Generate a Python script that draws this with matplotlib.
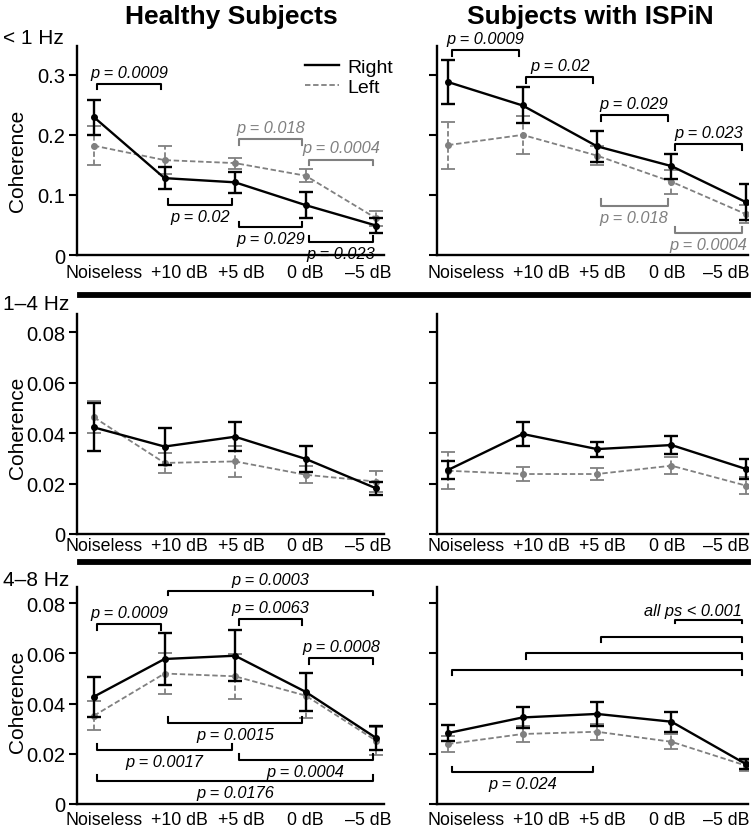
import numpy as np
import matplotlib.pyplot as plt
from matplotlib.lines import Line2D

plt.rcParams['font.family'] = ['Liberation Sans', 'DejaVu Sans']

conditions = ['Noiseless', '+10 dB', '+5 dB', '0 dB', '–5 dB']
bands = ['< 1 Hz', '1–4 Hz', '4–8 Hz']
groups = ['Healthy Subjects', 'Subjects with ISPiN']

# < 1 Hz
hs_lt1_right = [0.2295, 0.128, 0.121, 0.083, 0.049]
hs_lt1_right_err = [0.029, 0.018, 0.018, 0.022, 0.013]
hs_lt1_left = [0.182, 0.158, 0.153, 0.132, 0.061]
hs_lt1_left_err = [0.032, 0.023, 0.009, 0.011, 0.012]
sp_lt1_right = [0.288, 0.249, 0.181, 0.148, 0.088]
sp_lt1_right_err = [0.037, 0.030, 0.026, 0.021, 0.030]
sp_lt1_left = [0.183, 0.200, 0.1655, 0.122, 0.068]
sp_lt1_left_err = [0.039, 0.031, 0.016, 0.020, 0.015]

# 1–4 Hz
hs_d14_right = [0.0423, 0.0347, 0.0386, 0.0298, 0.0181]
hs_d14_right_err = [0.0095, 0.0074, 0.0058, 0.0050, 0.0025]
hs_d14_left = [0.0463, 0.0282, 0.0288, 0.0235, 0.0208]
hs_d14_left_err = [0.0064, 0.0040, 0.0062, 0.0033, 0.0043]
sp_d14_right = [0.0254, 0.0397, 0.0337, 0.0353, 0.0258]
sp_d14_right_err = [0.0035, 0.0047, 0.0030, 0.0037, 0.0038]
sp_d14_left = [0.0251, 0.0238, 0.0238, 0.0271, 0.0192]
sp_d14_left_err = [0.0074, 0.0027, 0.0023, 0.0034, 0.0035]

# 4–8 Hz
hs_d48_right = [0.0428, 0.0578, 0.0591, 0.0447, 0.0263]
hs_d48_right_err = [0.0080, 0.0105, 0.0101, 0.0077, 0.0048]
hs_d48_left = [0.0352, 0.0520, 0.0509, 0.0432, 0.0252]
hs_d48_left_err = [0.0057, 0.0080, 0.0090, 0.0090, 0.0055]
sp_d48_right = [0.0283, 0.0345, 0.0359, 0.0328, 0.0159]
sp_d48_right_err = [0.0032, 0.0041, 0.0048, 0.0040, 0.0019]
sp_d48_left = [0.0239, 0.0279, 0.0288, 0.0248, 0.0153]
sp_d48_left_err = [0.0033, 0.0033, 0.0032, 0.0030, 0.0020]

# significance brackets: (from, to, level, label, side, hemisphere)
hs_lt1_brackets = [(0, 1, 0.284, 'p = 0.0009', 'down', 'R'),
                   (1, 2, 0.084, 'p = 0.02', 'up', 'R'),
                   (2, 3, 0.046, 'p = 0.029', 'up', 'R'),
                   (3, 4, 0.022, 'p = 0.023', 'up', 'R'),
                   (2, 3, 0.193, 'p = 0.018', 'down', 'L'),
                   (3, 4, 0.159, 'p = 0.0004', 'down', 'L')]
sp_lt1_brackets = [(0, 1, 0.3417, 'p = 0.0009', 'down', 'R'),
                   (1, 2, 0.297, 'p = 0.02', 'down', 'R'),
                   (2, 3, 0.2333, 'p = 0.029', 'down', 'R'),
                   (3, 4, 0.185, 'p = 0.023', 'down', 'R'),
                   (2, 3, 0.082, 'p = 0.018', 'up', 'L'),
                   (3, 4, 0.0367, 'p = 0.0004', 'up', 'L')]
hs_d14_brackets = []
sp_d14_brackets = []
hs_d48_brackets = [(1, 4, 0.085, 'p = 0.0003', 'down', 'R'),
                   (0, 1, 0.0717, 'p = 0.0009', 'down', 'R'),
                   (2, 3, 0.0737, 'p = 0.0063', 'down', 'R'),
                   (3, 4, 0.058, 'p = 0.0008', 'down', 'R'),
                   (1, 3, 0.0323, 'p = 0.0015', 'up', 'R'),
                   (0, 2, 0.0216, 'p = 0.0017', 'up', 'R'),
                   (2, 4, 0.0175, 'p = 0.0004', 'up', 'R'),
                   (0, 4, 0.009, 'p = 0.0176', 'up', 'R')]
sp_d48_brackets = [(3, 4, 0.0733, '', 'down', 'R'),
                   (2, 4, 0.0667, '', 'down', 'R'),
                   (1, 4, 0.060, '', 'down', 'R'),
                   (0, 4, 0.0534, '', 'down', 'R'),
                   (0, 2, 0.0126, 'p = 0.024', 'up', 'R')]
sp_d48_note = 'all ps < 0.001'

panels = [
    [(hs_lt1_right, hs_lt1_right_err, hs_lt1_left, hs_lt1_left_err, hs_lt1_brackets),
     (sp_lt1_right, sp_lt1_right_err, sp_lt1_left, sp_lt1_left_err, sp_lt1_brackets)],
    [(hs_d14_right, hs_d14_right_err, hs_d14_left, hs_d14_left_err, hs_d14_brackets),
     (sp_d14_right, sp_d14_right_err, sp_d14_left, sp_d14_left_err, sp_d14_brackets)],
    [(hs_d48_right, hs_d48_right_err, hs_d48_left, hs_d48_left_err, hs_d48_brackets),
     (sp_d48_right, sp_d48_right_err, sp_d48_left, sp_d48_left_err, sp_d48_brackets)],
]

gray = '#808080'
colors = {'R': 'black', 'L': gray}

W, H = 755, 828
fig = plt.figure(figsize=(W / 100, H / 100), dpi=100)

rows_px = [(47, 256), (315, 535), (588, 805)]
cols_px = [(77, 384), (437, 748)]
ylims = [(0, 0.348), (0, 0.0873), (0, 0.0865)]
yticks = [[0, 0.1, 0.2, 0.3], [0, 0.02, 0.04, 0.06, 0.08], [0, 0.02, 0.04, 0.06, 0.08]]
xlims = [(-0.24, 4.11), (-0.148, 4.027)]
label_pos = [[0.15, 1.21, 2.09, 3.0, 3.89], [0.24, 1.25, 2.07, 2.94, 3.74]]
xpads = [6.3, 2.0, 4.8]
ylabel_y = [0.455, 0.489, 0.475]
band_label_y = [39, 305, 581]

x = np.arange(len(conditions))


def bracket(ax, i, j, level, label, side, color, tick_px=7, inset=0.05):
    y0, y1 = ax.get_ylim()
    h_px = ax.get_position().height * H
    tick = tick_px * (y1 - y0) / h_px
    sgn = -1 if side == 'down' else 1
    xa, xb = x[i] + inset, x[j] - inset
    ax.plot([xa, xa, xb, xb], [level + sgn * tick, level, level, level + sgn * tick],
            color=color, lw=1.5, clip_on=False, zorder=5)
    if label:
        ax.annotate(label, xy=((xa + xb) / 2, level), xytext=(0, -sgn * 8.3),
                    textcoords='offset points', ha='center', va='center',
                    fontsize=11.8, style='italic', color=color, annotation_clip=False)


for r, (top, bottom) in enumerate(rows_px):
    for c, (x0, x1) in enumerate(cols_px):
        ax = fig.add_axes([x0 / W, 1 - bottom / H, (x1 - x0) / W, (bottom - top) / H])
        right, right_err, left, left_err, brs = panels[r][c]

        eb = ax.errorbar(x, left, yerr=left_err, color=gray, lw=1.3, marker='o', ms=4,
                         capsize=5, capthick=1.3, elinewidth=1.3, zorder=2)
        eb[0].set_dashes((3, 1.5))
        eb[2][0].set_linestyle((0, (3, 1.5)))
        ax.errorbar(x, right, yerr=right_err, color='black', lw=1.7, marker='o', ms=4,
                    capsize=5, capthick=1.7, elinewidth=1.7, zorder=3)

        for i, j, level, label, side, hemi in brs:
            bracket(ax, i, j, level, label, side, colors[hemi])

        ax.set_xlim(*xlims[c])
        ax.set_ylim(*ylims[r])
        ax.set_xticks(label_pos[c])
        ax.set_xticklabels(conditions, fontsize=12.8)
        ax.tick_params(axis='x', length=0, pad=xpads[r])
        ax.set_yticks(yticks[r])
        ax.tick_params(axis='y', length=5.5, width=1.5, pad=3, labelsize=14.5)
        for s in ['top', 'right']:
            ax.spines[s].set_visible(False)
        for s in ['left', 'bottom']:
            ax.spines[s].set_linewidth(1.7)
        if c == 0:
            ax.set_yticklabels(['0' if v == 0 else f'{v:g}' for v in yticks[r]])
            ax.set_ylabel('Coherence', fontsize=15)
            ax.yaxis.set_label_coords((27 - x0) / (x1 - x0), ylabel_y[r])
        else:
            ax.set_yticklabels([])

        if r == 0 and c == 0:
            handles = [Line2D([], [], color='black', lw=1.7),
                       Line2D([], [], color=gray, lw=1.3, dashes=(3, 1.5))]
            ax.legend(handles, ['Right', 'Left'], loc='upper left',
                      bbox_to_anchor=(0.743, 0.94), frameon=False, fontsize=14,
                      handlelength=1.75, handletextpad=0.4, labelspacing=0.12,
                      borderpad=0, borderaxespad=0)
        if r == 2 and c == 1:
            ax.text(x[4] - 0.06, 0.077, sp_d48_note, ha='right', va='center',
                    fontsize=11.8, style='italic')

for k, band in enumerate(bands):
    fig.text(3 / W, 1 - band_label_y[k] / H, band, ha='left', va='center', fontsize=15)

fig.text(231 / W, 1 - 17 / H, groups[0], ha='center', va='center',
         fontsize=19, fontweight='bold')
fig.text(590 / W, 1 - 17 / H, groups[1], ha='center', va='center',
         fontsize=19, fontweight='bold')

for yy in [296, 563]:
    fig.add_artist(Line2D([80 / W, 748 / W], [1 - yy / H] * 2, lw=4.2, color='black'))

fig.savefig('out.png', dpi=100)
